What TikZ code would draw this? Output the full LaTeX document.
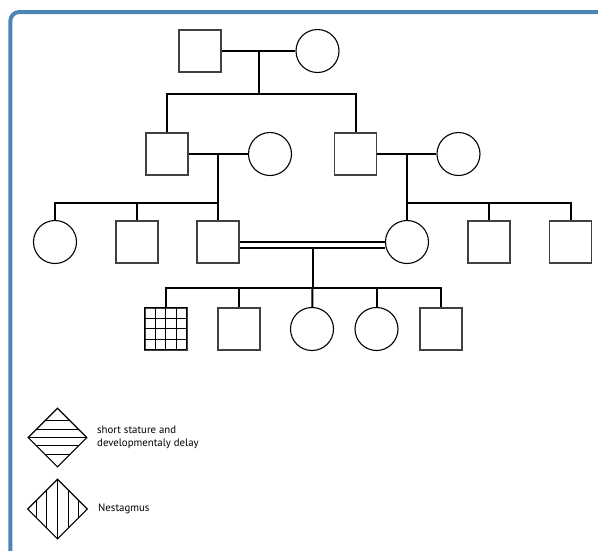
\documentclass[tikz,border=0pt]{standalone}
\usepackage{fontspec}
\setmainfont{PT Sans}
\usetikzlibrary{shapes.geometric}
\definecolor{framecol}{RGB}{78,132,182}

\begin{document}
\begin{tikzpicture}[x=1pt, y=-1pt,
    male/.style={draw=black!75, line width=1.1pt, minimum size=42pt, inner sep=0pt},
    female/.style={circle, draw, line width=1.1pt, minimum size=43pt, inner sep=0pt},
    hstripes/.style={diamond, draw, line width=1.1pt, minimum size=59pt, inner sep=0pt, path picture={
        \foreach \t in {-16.6,-8.3,0,8.3,16.6}
            \draw [line width=0.9pt] ([yshift=\t pt]path picture bounding box.west) -- ([yshift=\t pt]path picture bounding box.east);
        }},
    vstripes/.style={diamond, draw, line width=1.1pt, minimum size=60pt, inner sep=0pt, path picture={
        \foreach \t in {-21,-10.7,0,10.7,21}
            \draw [line width=0.9pt] ([xshift=\t pt]path picture bounding box.north) -- ([xshift=\t pt]path picture bounding box.south);
        }},
    line/.style={line width=2pt},
    legend/.style={anchor=west, align=left, font=\fontsize{10.8}{13.5}\selectfont, inner sep=0pt}]
    \useasboundingbox (0,0) rectangle (598,550);
    \clip (0,0) rectangle (598,550);
    \draw [framecol, line width=4pt, rounded corners=9pt] (10.3,12) rectangle (700,700);

    % generation I
    \path (  200,  51) node [male] (g1a) {};
    \path (317.5,  51) node [female] (g1b) {};
    \draw [line] (g1a) -- (g1b);
    \coordinate (m1) at (258.5,51);
    \coordinate (s1) at (258.5,94);
    \draw [line] (m1) -- (s1);

    % generation II
    \path (  167, 154) node [male] (g2a) {};
    \path (  270, 154) node [female] (g2b) {};
    \path (355.5, 154) node [male] (g2c) {};
    \path (458.5, 154) node [female] (g2d) {};
    \draw [line] (s1) -| (g2a);
    \draw [line] (s1) -| (g2c);
    \draw [line] (g2a) -- (g2b);
    \draw [line] (g2c) -- (g2d);
    \coordinate (m2a) at (218,154);
    \coordinate (m2b) at (407,154);

    % generation III
    \path (   55, 242) node [female] (g3a) {};
    \path (  137, 242) node [male] (g3b) {};
    \path (  218, 242) node [male] (g3c) {};
    \path (  407, 242) node [female] (g3d) {};
    \path (  489, 242) node [male] (g3e) {};
    \path (570.5, 242) node [male] (g3f) {};
    \draw [line] (m2a) -- (g3c);
    \draw [line] (m2b) -- (g3d);
    \coordinate (s2a) at (218,203);
    \coordinate (s2b) at (407,203);
    \draw [line] (s2a) -| (g3a);
    \draw [line] (s2a) -| (g3b);
    \draw [line] (s2b) -| (g3e);
    \draw [line] (s2b) -| (g3f);
    \draw [line width=1.6pt, double, double distance=4.2pt] ([yshift=-3pt]g3c.east) -- ([yshift=-3pt]g3d.west);
    \coordinate (m3) at (312.5,248);
    \coordinate (s3) at (312.5,288);
    \draw [line] (m3) -- (s3);

    % generation IV
    \path (  166, 329) node [male] (g4a) {};
    \begin{scope}[shift={(g4a.north west)}]
        \draw [line width=0.9pt, step=10.5pt] (0,0) grid (42,42);
    \end{scope}
    \path (  239, 329) node [male] (g4b) {};
    \path (  312, 329) node [female] (g4c) {};
    \path (376.5, 329) node [female] (g4d) {};
    \path (  441, 329) node [male] (g4e) {};
    \draw [line] (s3) -| (g4a);
    \draw [line] (s3) -| (g4b);
    \draw [line] (s3) -- (g4c);
    \draw [line] (s3) -| (g4d);
    \draw [line] (s3) -| (g4e);

    % legend
    \path ( 57.5, 437.5) node [hstripes] (key1) {};
    \path (   97, 437.5) node [legend] (lab1) {short stature and\\developmentaly delay};
    \path ( 57.5, 509) node [vstripes] (key2) {};
    \path (   98, 509) node [legend] (lab2) {Nestagmus};
\end{tikzpicture}
\end{document}
